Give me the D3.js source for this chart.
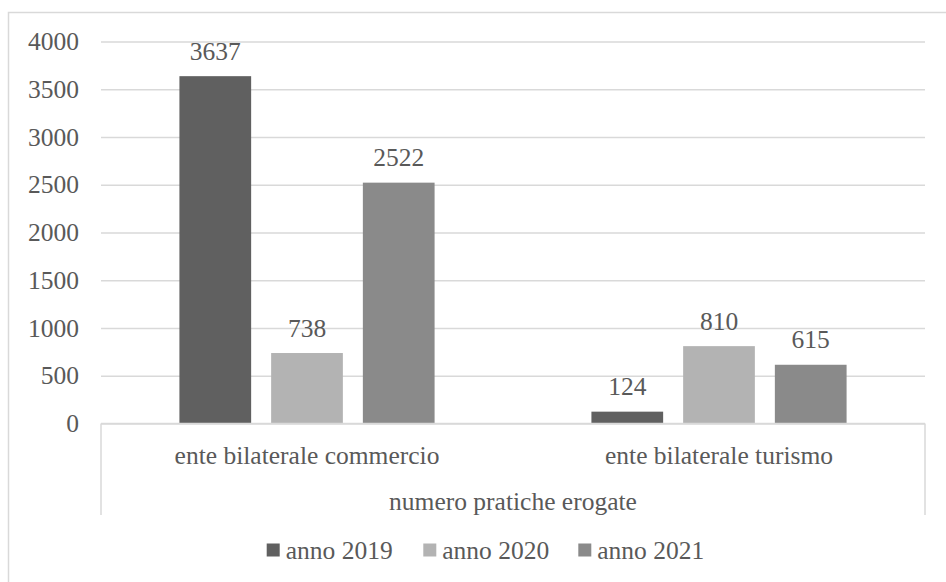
<!DOCTYPE html>
<html>
<head>
<meta charset="utf-8">
<style>
  body { margin: 0; background: #fff; }
  svg { display: block; }
  text { font-family: "Liberation Serif", serif; fill: #595959; }
</style>
</head>
<body>
<div id="chart"></div>
<script src="https://cdn.jsdelivr.net/npm/d3@7/dist/d3.min.js"></script>
<script>

// Data
const categories = ['ente bilaterale commercio', 'ente bilaterale turismo'];
const series = ['anno 2019', 'anno 2020', 'anno 2021'];
const values2019 = [3637, 124];
const values2020 = [738, 810];
const values2021 = [2522, 615];
const yTicks = [0, 500, 1000, 1500, 2000, 2500, 3000, 3500, 4000];
const groupTitle = 'numero pratiche erogate';

const colors = ['#606060', '#b3b3b3', '#8a8a8a'];
const gridColor = '#d9d9d9';
const fontSize = 25.5;

const W = 946, H = 582;
const plot = {left: 101, right: 925, top: 41.5, bottom: 423.5};

const svg = d3.select('#chart').append('svg')
  .attr('width', W)
  .attr('height', H);

// outer chart border (runs off the right and bottom edges)
svg.append('rect')
  .attr('x', 8.5).attr('y', 12.5)
  .attr('width', W).attr('height', H)
  .attr('fill', 'none')
  .attr('stroke', gridColor)
  .attr('stroke-width', 1.5);

// scales
const x0 = d3.scaleBand().domain(categories).range([plot.left, plot.right]);
const x1 = d3.scaleBand().domain(series).range([0, x0.bandwidth()])
  .paddingInner(0.218).paddingOuter(0.855);
const y = d3.scaleLinear().domain([0, 4000]).range([plot.bottom, plot.top]);

// gridlines
const yAxis = d3.axisLeft(y).tickValues(yTicks)
  .tickSize(-(plot.right - plot.left)).tickFormat('').tickSizeOuter(0);
const grid = svg.append('g')
  .attr('transform', 'translate(' + plot.left + ',0)')
  .call(yAxis);
grid.select('.domain').remove();
grid.selectAll('.tick line').attr('stroke', gridColor).attr('stroke-width', 1.5);

// y tick labels
svg.append('g').selectAll('text')
  .data(yTicks).enter()
  .append('text')
  .attr('x', 79)
  .attr('y', d => y(d))
  .attr('dy', '0.34em')
  .attr('text-anchor', 'end')
  .style('font-size', fontSize + 'px')
  .text(d => d);

// bars
const rows = categories.map((c, i) => ({
  cat: c,
  vals: [values2019[i], values2020[i], values2021[i]]
}));

const groups = svg.append('g').selectAll('g')
  .data(rows).enter()
  .append('g')
  .attr('transform', d => 'translate(' + x0(d.cat) + ',0)');

groups.selectAll('rect')
  .data(d => d.vals.map((v, j) => ({s: series[j], v: v, j: j})))
  .enter().append('rect')
  .attr('x', d => x1(d.s))
  .attr('y', d => y(d.v))
  .attr('width', x1.bandwidth())
  .attr('height', d => y(0) - y(d.v))
  .attr('fill', d => colors[d.j]);

groups.selectAll('text')
  .data(d => d.vals.map((v, j) => ({s: series[j], v: v})))
  .enter().append('text')
  .attr('x', d => x1(d.s) + x1.bandwidth() / 2)
  .attr('y', d => y(d.v) - 25)
  .attr('dy', '0.34em')
  .attr('text-anchor', 'middle')
  .style('font-size', fontSize + 'px')
  .text(d => d.v);

// category axis: baseline and side lines
const axisG = svg.append('g').attr('stroke', gridColor).attr('stroke-width', 1.5);
axisG.append('line')
  .attr('x1', plot.left).attr('x2', plot.right)
  .attr('y1', y(0)).attr('y2', y(0));
axisG.selectAll('line.side')
  .data(x0.range()).enter()
  .append('line')
  .attr('class', 'side')
  .attr('x1', d => d).attr('x2', d => d)
  .attr('y1', y(0)).attr('y2', 515);

svg.append('g').selectAll('text')
  .data(categories).enter()
  .append('text')
  .attr('x', d => x0(d) + x0.bandwidth() / 2)
  .attr('y', 455)
  .attr('dy', '0.34em')
  .attr('text-anchor', 'middle')
  .style('font-size', fontSize + 'px')
  .text(d => d);

svg.append('text')
  .attr('x', (plot.left + plot.right) / 2)
  .attr('y', 501.5)
  .attr('dy', '0.34em')
  .attr('text-anchor', 'middle')
  .style('font-size', fontSize + 'px')
  .text(groupTitle);

// legend
const legendX = [266.7, 423.3, 578.3];
const legend = svg.append('g').selectAll('g')
  .data(series).enter()
  .append('g')
  .attr('transform', (d, i) => 'translate(' + legendX[i] + ',550)');
legend.append('rect')
  .attr('x', 0).attr('y', -6.5)
  .attr('width', 13).attr('height', 13)
  .attr('fill', (d, i) => colors[i]);
legend.append('text')
  .attr('x', 19)
  .attr('y', 0)
  .attr('dy', '0.34em')
  .style('font-size', fontSize + 'px')
  .text(d => d);

</script>
</body>
</html>
